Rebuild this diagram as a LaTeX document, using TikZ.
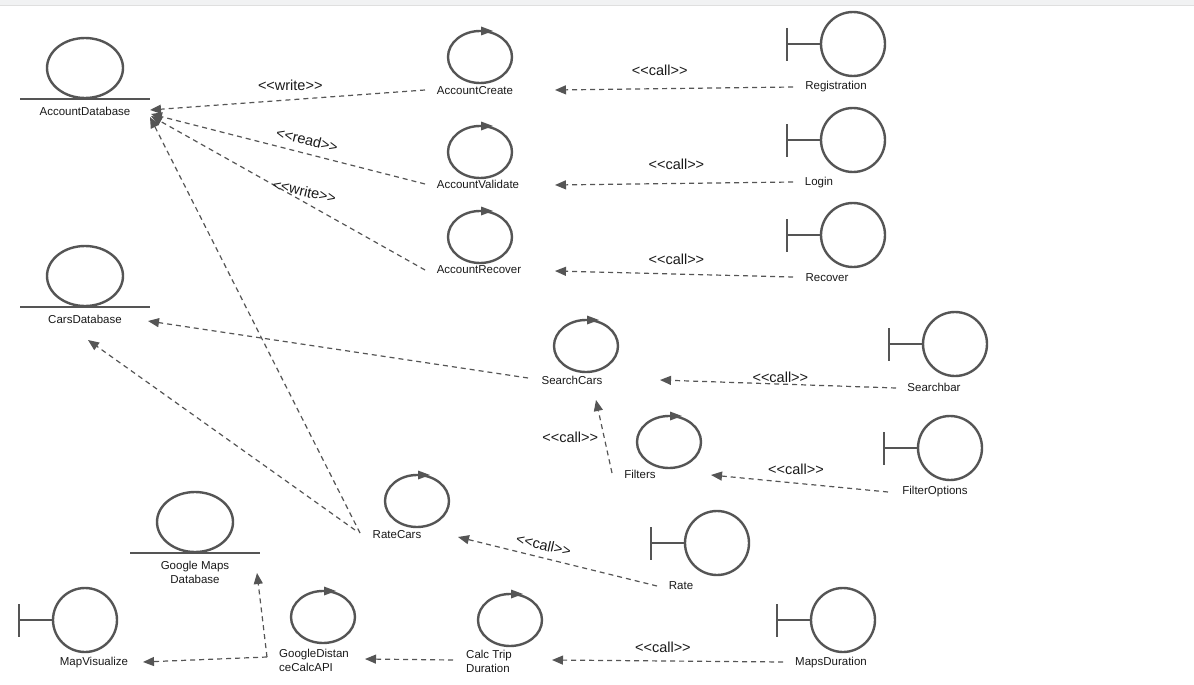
\documentclass[tikz,border=0pt]{standalone}
\usepackage{fontspec}
\setmainfont{Liberation Sans}
\usetikzlibrary{arrows.meta,calc}
\definecolor{shapecol}{HTML}{555555}
\definecolor{linecol}{HTML}{555555}
\definecolor{txtcol}{HTML}{1A1A1A}
\definecolor{bandcol}{HTML}{F1F2F3}
\newcommand\stereotxt[1]{{<}{<}#1{>}{>}}
\tikzset{
  shp/.style={draw=shapecol, line width=2.4pt},
  lbl/.style={font=\fontsize{11.5}{14}\selectfont, text=txtcol, inner sep=1pt},
  stereo/.style={font=\fontsize{14.5}{16}\selectfont, text=txtcol, inner sep=1pt},
  conn/.style={draw=linecol, line width=1.2pt, dash pattern=on 5pt off 4pt,
    -{Triangle[length=11pt,width=9pt]}},
  control/.pic={
    \draw[shp] (0,0) ellipse [x radius=32pt, y radius=26pt];
    \fill[shapecol] (1,-30.5) -- (13,-26) -- (1,-21.5) -- cycle;
  },
  boundary/.pic={
    \draw[shp] (0,0) circle [radius=32pt];
    \draw[shp] (-66,0) -- (-32,0);
    \draw[shp] (-66,-16) -- (-66,17);
  },
  entity/.pic={
    \draw[shp] (0,0) ellipse [x radius=38pt, y radius=30pt];
    \draw[shp] (-65,31) -- (65,31);
  }
}
\begin{document}
\begin{tikzpicture}[x=1pt,y=-1pt]
\useasboundingbox (0,0) rectangle (1194,685);
\fill[white] (0,0) rectangle (1194,685);
\fill[bandcol] (0,0) rectangle (1194,5);
\draw[gray!25, line width=0.6pt] (0,5.3) -- (1194,5.3);

% entities
\pic (adb) at (85,68) {entity};
\pic (cdb) at (85,276) {entity};
\pic (gmdb) at (195,522) {entity};
\node[lbl] (adbL) at (85,111) {AccountDatabase};
\node[lbl] (cdbL) at (85,319) {CarsDatabase};
\node[lbl, align=center] (gmL) at (195,572) {Google Maps\\Database};

% controls
\pic (ac) at (480,57) {control};
\pic (av) at (480,152) {control};
\pic (ar) at (480,237) {control};
\pic (sc) at (586,346) {control};
\pic (fi) at (669,442) {control};
\pic (rc) at (417,501) {control};
\pic (ct) at (510,620) {control};
\pic (gd) at (323,617) {control};
\node[lbl] (acL) at (475,91) {AccountCreate};
\node[lbl] (avL) at (478,184) {AccountValidate};
\node[lbl] (arL) at (479,270) {AccountRecover};
\node[lbl] (scL) at (572,380) {SearchCars};
\node[lbl] (fiL) at (640,474) {Filters};
\node[lbl] (rcL) at (397,535) {RateCars};
\node[lbl, align=left, anchor=west] (ctL) at (465,661) {Calc Trip\\Duration};
\node[lbl, align=left, anchor=west] (gdL) at (278,660) {GoogleDistan\\ceCalcAPI};

% boundaries
\pic (reg) at (853,44) {boundary};
\pic (log) at (853,140) {boundary};
\pic (rec) at (853,235) {boundary};
\pic (sb) at (955,344) {boundary};
\pic (fo) at (950,448) {boundary};
\pic (ra) at (717,543) {boundary};
\pic (md) at (843,620) {boundary};
\pic (mv) at (85,620) {boundary};
\node[lbl] (regL) at (836,87) {Registration};
\node[lbl] (logL) at (819,183) {Login};
\node[lbl] (recL) at (827,278) {Recover};
\node[lbl] (sbL) at (934,387) {Searchbar};
\node[lbl] (foL) at (935,492) {FilterOptions};
\node[lbl] (raL) at (681,586) {Rate};
\node[lbl] (mdL) at (831,663) {MapsDuration};
\node[lbl] (mvL) at (94,663) {MapVisualize};

% connectors to AccountDatabase
\draw[conn] ($(acL)+(-50,-1)$) -- node[stereo, pos=0.49, yshift=14pt] (w1) {\stereotxt{write}} ($(adbL)+(65,-1)$);
\draw[conn] ($(avL)+(-53,0)$) -- node[stereo, pos=0.43, yshift=14pt, rotate=-14] (r1) {\stereotxt{read}} ($(adbL)+(66,3)$);
\draw[conn] ($(arL)+(-54,0)$) -- node[stereo, pos=0.44, yshift=11pt, rotate=-13] (w2) {\stereotxt{write}} ($(adbL)+(66,5)$);
\draw[conn] ($(rcL)+(-37,-2)$) -- ($(adbL)+(65,6)$);

% connectors to CarsDatabase
\draw[conn] ($(rcL)+(-42,-5)$) -- ($(cdbL)+(3,21)$);
\draw[conn] ($(scL)+(-44,-2)$) -- ($(cdbL)+(63,2)$);

% calls
\draw[conn] ($(regL)+(-43,0)$) -- node[stereo, pos=0.56, yshift=18.5pt] (c1) {\stereotxt{call}} ($(acL)+(80,-1)$);
\draw[conn] ($(logL)+(-26,-1)$) -- node[stereo, pos=0.49, yshift=19.5pt] (c2) {\stereotxt{call}} ($(avL)+(77,1)$);
\draw[conn] ($(recL)+(-34,-1)$) -- node[stereo, pos=0.49, yshift=15pt] (c3) {\stereotxt{call}} ($(arL)+(76,1)$);
\draw[conn] ($(sbL)+(-38,1)$) -- node[stereo, pos=0.49, yshift=7pt] (c4) {\stereotxt{call}} ($(scL)+(88,0)$);
\draw[conn] ($(fiL)+(-28,-1)$) -- node[stereo, pos=0.49, xshift=-34pt] (c5) {\stereotxt{call}} ($(scL)+(24,20)$);
\draw[conn] ($(foL)+(-47,0)$) -- node[stereo, pos=0.52, yshift=14pt] (c6) {\stereotxt{call}} ($(fiL)+(71,1)$);
\draw[conn] ($(raL)+(-24,0)$) -- node[stereo, pos=0.57, yshift=13pt, rotate=-13] (c7) {\stereotxt{call}} ($(rcL)+(61,2)$);
\draw[conn] ($(mdL)+(-48,-1)$) -- node[stereo, pos=0.52, yshift=14pt] (c8) {\stereotxt{call}} ($(ctL.west)+(87,-1)$);

% maps chain
\draw[conn] ($(ctL.west)+(-12,-1)$) -- ($(gdL.west)+(87,-1)$);
\coordinate (jn) at ($(gdL.west)+(-11,-3)$);
\draw[conn] (jn) -- ($(gmL)+(62,1)$);
\draw[conn] (jn) -- ($(mvL)+(49,-1)$);
\end{tikzpicture}
\end{document}
